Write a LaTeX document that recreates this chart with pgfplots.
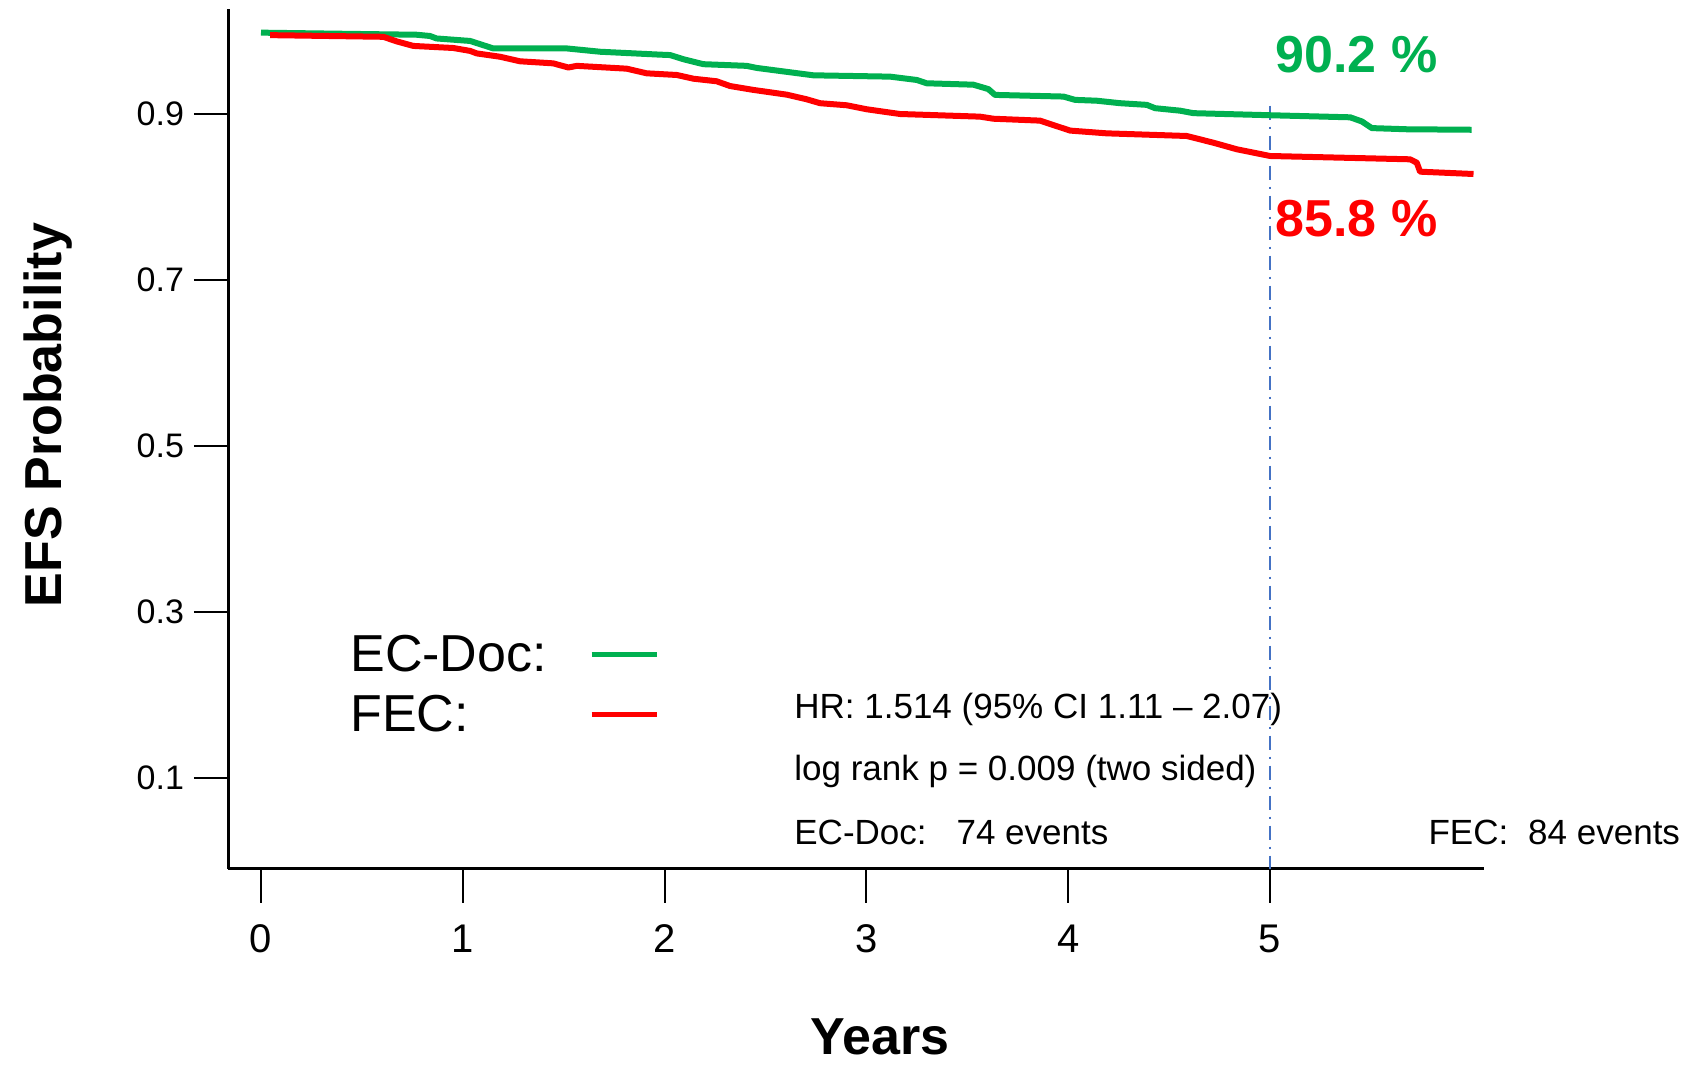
\documentclass[border=0pt]{standalone}
\usepackage{fontspec}
\setmainfont{Liberation Sans}
\usepackage{pgfplots}
\pgfplotsset{compat=1.18}
\definecolor{kmgreen}{RGB}{0,176,80}
\definecolor{kmred}{RGB}{255,0,0}
\definecolor{refblue}{RGB}{68,114,196}
\begin{document}
\begin{tikzpicture}
\useasboundingbox (0,0) rectangle (844.5pt,534pt);
\begin{axis}[
  at={(114pt,99.5pt)}, anchor=south west,
  scale only axis, width=628pt, height=430.2pt,
  xmin=-0.1635, xmax=6.060, ymin=-0.0096, ymax=1.027,
  axis lines*=left,
  axis line style={line width=1.5pt, black},
  xtick={0,1,2,3,4,5}, ytick={0.1,0.3,0.5,0.7,0.9},
  xticklabels={0,1,2,3,4,5},
  yticklabels={0.1,0.3,0.5,0.7,0.9},
  tick align=outside, major tick length=17pt,
  major tick style={line width=1pt, black},
  /pgf/number format/assume math mode=true,
  xticklabel style={font=\fontsize{20}{23}\selectfont},
  yticklabel style={font=\fontsize{17}{20}\selectfont},
  xticklabel shift=7.5pt, yticklabel shift=1.5pt,
  xlabel={Years}, ylabel={EFS Probability},
  xlabel style={at={(axis description cs:0.519,-0.2155)}, anchor=base, font=\bfseries\fontsize{26}{30}\selectfont},
  ylabel style={at={(axis description cs:-0.1325,0.5277)}, anchor=base, font=\bfseries\fontsize{26}{30}\selectfont},
  clip=false,
  legend plot pos=right,
  legend cell align=left,
  legend style={draw=none, fill=none, at={(axis description cs:0.0971,0.2736)}, anchor=north west, inner sep=0pt,
    font=\fontsize{26}{30}\selectfont, column sep=21pt, row sep=6pt,
    nodes={inner sep=0pt, text height=19pt, text depth=5pt}},
  legend image code/.code={\draw[#1, line width=2.7pt] (0pt,1.6pt) -- (32.5pt,1.6pt);},
]
\addplot[refblue, line width=0.9pt, dash pattern=on 7pt off 3.5pt on 1pt off 3.5pt, forget plot] coordinates {(5,0.91) (5,-0.0096)};
\addplot[kmgreen, line width=3pt, line join=round] table {
t v
0.000 0.998
0.606 0.996
0.770 0.9955
0.837 0.994
0.870 0.991
1.036 0.988
1.151 0.979
1.300 0.979
1.515 0.979
1.680 0.975
1.977 0.9715
2.027 0.971
2.093 0.966
2.192 0.960
2.406 0.958
2.456 0.9555
2.737 0.9466
3.117 0.945
3.249 0.941
3.298 0.937
3.530 0.9353
3.604 0.930
3.637 0.923
3.976 0.921
4.034 0.917
4.141 0.916
4.257 0.913
4.389 0.911
4.430 0.907
4.554 0.904
4.620 0.901
5.000 0.8985
5.397 0.896
5.455 0.891
5.504 0.883
5.677 0.8816
5.999 0.881
};
\addlegendentry{EC-Doc:}
\addplot[kmred, line width=3pt, line join=round] table {
t v
0.045 0.995
0.606 0.993
0.672 0.9875
0.755 0.982
0.953 0.9795
1.036 0.976
1.069 0.973
1.184 0.969
1.283 0.9635
1.448 0.961
1.523 0.956
1.565 0.958
1.812 0.9546
1.911 0.949
2.060 0.947
2.143 0.9425
2.258 0.9394
2.324 0.9337
2.440 0.929
2.605 0.9233
2.704 0.9177
2.770 0.913
2.902 0.9105
3.001 0.9057
3.166 0.900
3.563 0.8968
3.629 0.8943
3.860 0.892
4.009 0.880
4.190 0.8767
4.587 0.8735
4.719 0.8654
4.835 0.8575
5.000 0.8494
5.694 0.8454
5.727 0.8413
5.743 0.8305
6.008 0.8277
};
\addlegendentry{FEC:}
\node[anchor=west, inner sep=0pt, text=kmgreen, font=\bfseries\fontsize{26}{30}\selectfont] at (axis cs:5.025,0.972) {90.2 \%};
\node[anchor=west, inner sep=0pt, text=kmred, font=\bfseries\fontsize{26}{30}\selectfont] at (axis cs:5.025,0.7735) {85.8 \%};
\node[anchor=west, inner sep=0pt, font=\fontsize{17.5}{20}\selectfont] at (axis cs:2.641,0.1827) {HR: 1.514 (95\% CI 1.11 -- 2.07)};
\node[anchor=west, inner sep=0pt, font=\fontsize{17.5}{20}\selectfont] at (axis cs:2.641,0.108) {log rank p = 0.009 (two sided)};
\node[anchor=west, inner sep=0pt, font=\fontsize{17.5}{20}\selectfont] at (axis cs:2.641,0.035) {EC-Doc:\hspace{15pt}74 events};
\node[anchor=west, inner sep=0pt, font=\fontsize{17.5}{20}\selectfont] at (axis cs:5.783,0.035) {FEC:\hspace{10pt}84 events};
\end{axis}
\end{tikzpicture}
\end{document}
